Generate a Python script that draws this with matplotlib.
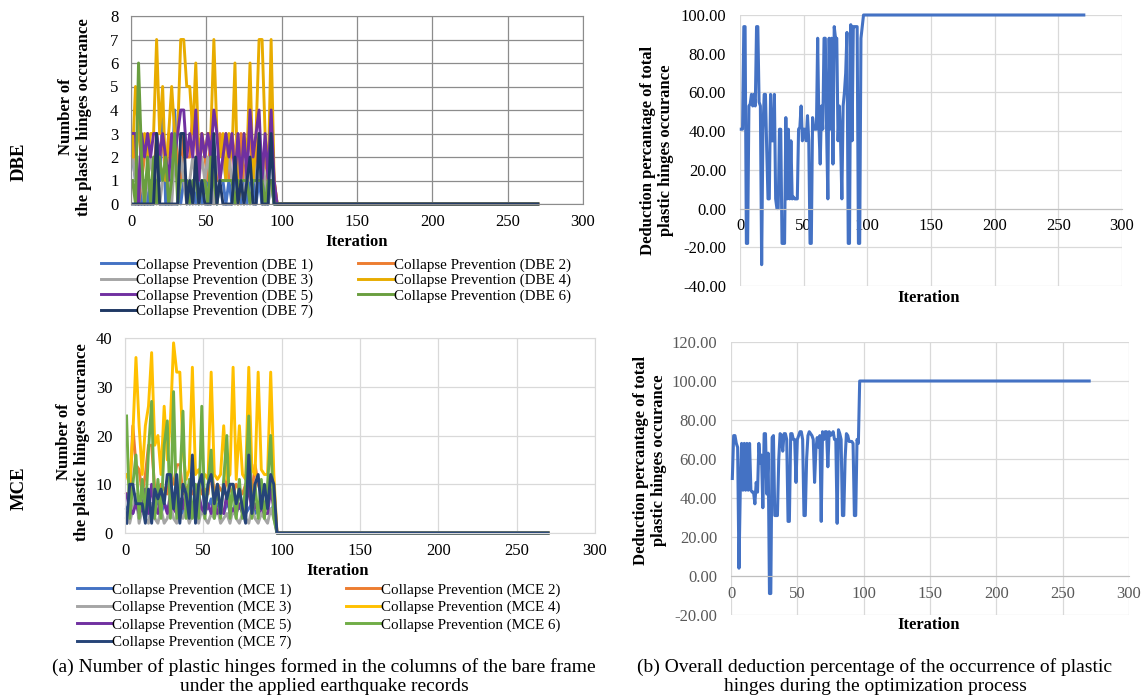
import matplotlib
matplotlib.use('Agg')
import matplotlib.pyplot as plt
from matplotlib.ticker import FormatStrFormatter

plt.rcParams['font.family'] = ['Liberation Serif', 'DejaVu Serif']

# ---------------- data ----------------
# multi-record panels: sampled every 2nd iteration while the search is active
ITER_ACTIVE = list(range(1, 96, 2))
ITER_TAIL = [97, 270]
ZERO_TAIL = [0, 0]

dbe_1 = [2, 1, 1, 0, 1, 0, 1, 0, 1, 1, 4, 0, 1, 1, 4, 1, 0, 1, 1, 0, 1, 0, 1, 0,
         1, 1, 0, 1, 0, 1, 1, 0, 1, 0, 1, 1, 0, 1, 0, 1, 1, 0, 1, 0, 1, 0, 1, 0]
dbe_2 = [3, 2, 0, 1, 2, 3, 2, 1, 3, 2, 3, 1, 3, 2, 3, 2, 1, 3, 2, 2, 4, 3, 1, 3,
         2, 1, 3, 2, 1, 3, 2, 3, 1, 3, 2, 1, 3, 1, 2, 3, 1, 2, 3, 1, 2, 1, 3, 1]
dbe_3 = [2, 1, 2, 1, 0, 1, 2, 1, 2, 0, 1, 2, 1, 0, 2, 1, 2, 1, 0, 1, 2, 1, 1, 2,
         1, 2, 1, 0, 2, 1, 2, 1, 2, 1, 1, 2, 1, 0, 2, 1, 2, 1, 1, 2, 1, 0, 1, 0]
dbe_4 = [2, 5, 3, 2, 3, 2, 3, 3, 7, 3, 5, 1, 3, 5, 3, 3, 7, 7, 5, 5, 3, 6, 2, 3,
         2, 3, 3, 7, 3, 2, 3, 1, 3, 2, 6, 0, 1, 3, 2, 6, 1, 3, 7, 7, 3, 1, 7, 1]
dbe_5 = [3, 3, 0, 3, 2, 3, 2, 3, 3, 2, 3, 2, 1, 3, 2, 3, 4, 4, 2, 3, 2, 4, 1, 3,
         2, 3, 2, 4, 3, 1, 2, 3, 2, 3, 1, 3, 1, 3, 1, 4, 2, 3, 4, 1, 3, 1, 4, 1]
dbe_6 = [1, 0, 6, 2, 0, 2, 0, 2, 0, 2, 1, 2, 0, 1, 3, 0, 1, 1, 1, 0, 1, 1, 0, 1,
         1, 0, 2, 1, 0, 1, 1, 1, 1, 1, 0, 1, 1, 1, 1, 0, 1, 1, 1, 1, 0, 1, 1, 0]
dbe_7 = [0, 0, 0, 0, 0, 0, 0, 0, 3, 0, 0, 0, 0, 0, 0, 0, 3, 3, 0, 1, 0, 2, 0, 1,
         0, 0, 0, 3, 0, 1, 0, 0, 0, 0, 2, 0, 1, 0, 1, 2, 0, 0, 3, 0, 0, 0, 3, 0]

mce_1 = [5, 6, 4, 7, 5, 6, 5, 4, 6, 5, 7, 4, 6, 5, 4, 7, 5, 6, 4, 5, 7, 4, 6, 5,
         4, 6, 5, 7, 4, 6, 5, 4, 6, 5, 4, 7, 5, 6, 4, 5, 6, 4, 5, 7, 6, 5, 4, 6]
mce_2 = [8, 7, 22, 14, 13, 8, 12, 18, 18, 9, 8, 10, 9, 8, 12, 10, 14, 14, 8, 9, 10, 8, 9, 10,
         8, 9, 8, 14, 8, 10, 9, 8, 11, 9, 8, 10, 9, 8, 10, 9, 8, 14, 10, 8, 9, 8, 10, 9]
mce_3 = [3, 2, 5, 8, 2, 5, 3, 2, 6, 3, 2, 5, 2, 3, 6, 3, 2, 4, 3, 5, 2, 4, 3, 2,
         5, 3, 2, 4, 3, 5, 2, 3, 4, 2, 5, 3, 2, 4, 3, 2, 5, 3, 2, 4, 3, 2, 5, 3]
mce_4 = [12, 10, 20, 36, 22, 12, 22, 26, 37, 18, 20, 12, 26, 15, 23, 39, 33, 33, 17, 11, 13, 34, 12, 13,
         11, 12, 11, 33, 12, 11, 12, 22, 11, 12, 34, 11, 22, 12, 11, 34, 13, 12, 33, 13, 12, 12, 33, 12]
mce_5 = [8, 5, 4, 6, 4, 5, 9, 4, 10, 5, 4, 9, 6, 4, 8, 5, 4, 7, 5, 9, 4, 6, 4, 8,
         5, 4, 6, 4, 7, 4, 5, 4, 8, 4, 5, 4, 6, 4, 5, 10, 4, 6, 4, 5, 4, 4, 9, 5]
mce_6 = [24, 3, 10, 16, 3, 11, 3, 17, 27, 3, 11, 3, 18, 23, 3, 29, 3, 10, 25, 3, 11, 3, 10, 3,
         26, 3, 10, 17, 3, 10, 3, 11, 20, 3, 10, 3, 11, 3, 10, 24, 3, 10, 3, 11, 3, 10, 20, 3]
mce_7 = [2, 10, 10, 6, 6, 6, 2, 9, 2, 9, 7, 9, 6, 12, 12, 5, 12, 2, 10, 8, 3, 16, 2, 10,
         12, 4, 10, 12, 6, 10, 4, 10, 7, 10, 10, 6, 9, 5, 2, 16, 4, 10, 12, 5, 10, 5, 12, 10]

# overall deduction percentage, every iteration until convergence, then flat
ITER_FULL = list(range(1, 98))
ITER_END = [270]
dbe_total = [41, 41, 94, 94, -18, -18, 53, 54, 59, 53,
             59, 53, 94, 94, 55, 53, -29, 40, 59, 59,
             30, 5, 5, 59, 35, 35, 59, 5, 0, 0,
             41, 41, -18, -18, -18, 47, 5, 41, 5, 35,
             5, 6, 5, 5, 5, 41, 42, 53, 35, 41,
             41, 35, 48, 35, -18, -18, 47, 41, 41, 41,
             88, 41, 23, 53, 41, 88, 88, 41, 5, 88,
             41, 88, 23, 94, 88, 88, 35, 53, 35, 5,
             53, 60, 70, 91, -18, -18, 95, 35, 94, 94,
             94, 94, -18, -18, 88, 94, 100]
dbe_total_end = [100]
mce_total = [50, 72, 72, 68, 66, 4, 44, 68, 44, 68,
             44, 68, 44, 68, 44, 43, 43, 37, 48, 43,
             68, 58, 62, 35, 73, 73, 42, 63, -9, -9,
             71, 72, 31, 31, 31, 60, 73, 72, 64, 73,
             73, 70, 28, 28, 73, 73, 70, 70, 48, 70,
             72, 74, 74, 70, 31, 31, 60, 72, 74, 73,
             72, 70, 48, 65, 71, 66, 72, 28, 74, 70,
             74, 74, 56, 74, 72, 73, 74, 70, 70, 27,
             75, 73, 70, 31, 31, 60, 73, 72, 69, 69,
             69, 68, 31, 31, 70, 68, 100]
mce_total_end = [100]

DBE_SERIES = [dbe_1, dbe_2, dbe_3, dbe_4, dbe_5, dbe_6, dbe_7]
MCE_SERIES = [mce_1, mce_2, mce_3, mce_4, mce_5, mce_6, mce_7]
DBE_NAMES = ['Collapse Prevention (DBE %d)' % i for i in range(1, 8)]
MCE_NAMES = ['Collapse Prevention (MCE %d)' % i for i in range(1, 8)]
DBE_COLORS = ['#4472C4', '#ED7D31', '#A5A5A5', '#E8AC00', '#7030A0', '#6A9E3F', '#1F3864']
MCE_COLORS = ['#4472C4', '#ED7D31', '#A5A5A5', '#FFC000', '#7030A0', '#70AD47', '#264478']

# ---------------- layout helpers (pixel -> figure coords) ----------------
W, H = 1146, 699
fig = plt.figure(figsize=(W / 100, H / 100), dpi=100)


def box(l, t, r, b):
    return [l / W, 1 - b / H, (r - l) / W, (b - t) / H]


def ftext(x, y, s, **kw):
    fig.text(x / W, 1 - y / H, s, ha='center', va='center', **kw)


def base_style(ax, grid_col, lab_col, xpad, ypad):
    ax.set_xlim(0, 300)
    ax.set_xticks(range(0, 301, 50))
    ax.grid(True, color=grid_col, linewidth=0.9)
    ax.set_axisbelow(True)
    ax.tick_params(length=0, labelsize=12, colors=lab_col)
    ax.tick_params(axis='x', pad=xpad)
    ax.tick_params(axis='y', pad=ypad)


# ---------------- (a) DBE ----------------
ax1 = fig.add_axes(box(131, 16, 583, 204))
base_style(ax1, '#8c8c8c', 'black', 7, 9)
ax1.set_ylim(0, 8)
ax1.set_yticks(range(0, 9))
for sp in ax1.spines.values():
    sp.set_color('#8c8c8c')
lines = []
for vals, name, col in zip(DBE_SERIES, DBE_NAMES, DBE_COLORS):
    ln, = ax1.plot(ITER_ACTIVE + ITER_TAIL, vals + ZERO_TAIL, color=col, lw=2.1,
                   label=name, clip_on=False)
    lines.append(ln)
order = [0, 2, 4, 6, 1, 3, 5]
fig.legend([lines[i] for i in order], [DBE_NAMES[i] for i in order], ncol=2,
           loc='upper left', bbox_to_anchor=(101 / W, 1 - 258 / H), frameon=False,
           fontsize=10.8, borderpad=0, borderaxespad=0, handlelength=2.3,
           handletextpad=0.05, columnspacing=3.0, labelspacing=0.12)

# ---------------- (a) MCE ----------------
ax3 = fig.add_axes(box(125, 338, 595, 533))
base_style(ax3, '#d9d9d9', 'black', 7, 9)
ax3.set_ylim(0, 40)
ax3.set_yticks(range(0, 41, 10))
for sp in ax3.spines.values():
    sp.set_color('#d9d9d9')
lines = []
for vals, name, col in zip(MCE_SERIES, MCE_NAMES, MCE_COLORS):
    ln, = ax3.plot(ITER_ACTIVE + ITER_TAIL, vals + ZERO_TAIL, color=col, lw=2.1,
                   label=name, clip_on=False)
    lines.append(ln)
fig.legend([lines[i] for i in order], [MCE_NAMES[i] for i in order], ncol=2,
           loc='upper left', bbox_to_anchor=(77 / W, 1 - 583 / H), frameon=False,
           fontsize=10.8, borderpad=0, borderaxespad=0, handlelength=2.3,
           handletextpad=0.05, columnspacing=3.6, labelspacing=0.26)

# ---------------- (b) DBE total ----------------
ax2 = fig.add_axes(box(740, 15, 1122, 286))
base_style(ax2, '#d9d9d9', 'black', 7, 10)
ax2.set_ylim(-40, 100)
ax2.set_yticks(range(-40, 101, 20))
ax2.yaxis.set_major_formatter(FormatStrFormatter('%.2f'))
for k in ['left', 'right', 'top']:
    ax2.spines[k].set_visible(False)
ax2.spines['bottom'].set_position(('data', 0))
ax2.spines['bottom'].set_color('#bfbfbf')
ax2.plot(ITER_FULL + ITER_END, dbe_total + dbe_total_end, color='#4472C4', lw=2.2,
         clip_on=False)

# ---------------- (b) MCE total ----------------
ax4 = fig.add_axes(box(731, 342, 1129, 615))
base_style(ax4, '#d9d9d9', '#595959', 7, 10)
ax4.set_ylim(-20, 120)
ax4.set_yticks(range(-20, 121, 20))
ax4.yaxis.set_major_formatter(FormatStrFormatter('%.2f'))
for k in ['left', 'right', 'top']:
    ax4.spines[k].set_visible(False)
ax4.spines['bottom'].set_position(('data', 0))
ax4.spines['bottom'].set_color('#bfbfbf')
ax4.plot(ITER_FULL + ITER_END, mce_total + mce_total_end, color='#4472C4', lw=2.2,
         clip_on=False)

# ---------------- labels ----------------
bold = dict(fontweight='bold')
ftext(19, 162, 'DBE', rotation=90, fontsize=13.5, **bold)
ftext(19, 488, 'MCE', rotation=90, fontsize=13.5, **bold)
ftext(75, 117, 'Number of\nthe plastic hinges occurance', rotation=90, fontsize=12,
      linespacing=1.1, **bold)
ftext(73, 442, 'Number of\nthe plastic hinges occurance', rotation=90, fontsize=12,
      linespacing=1.1, **bold)
ftext(657, 150, 'Deduction percantage of total\nplastic hinges occurance', rotation=90,
      fontsize=12, linespacing=1.1, **bold)
ftext(650, 460, 'Deduction percantage of total\nplastic hinges occurance', rotation=90,
      fontsize=12, linespacing=1.1, **bold)
ftext(357, 242, 'Iteration', fontsize=12, **bold)
ftext(338, 571, 'Iteration', fontsize=12, **bold)
ftext(929, 298, 'Iteration', fontsize=12, **bold)
ftext(929, 625, 'Iteration', fontsize=12, **bold)

ftext(324, 677, '(a) Number of plastic hinges formed in the columns of the bare frame\n'
      'under the applied earthquake records', fontsize=14, linespacing=1.15)
ftext(875, 677, '(b) Overall deduction percentage of the occurrence of plastic\n'
      'hinges during the optimization process', fontsize=14, linespacing=1.15)

fig.savefig('out.png', dpi=100)
